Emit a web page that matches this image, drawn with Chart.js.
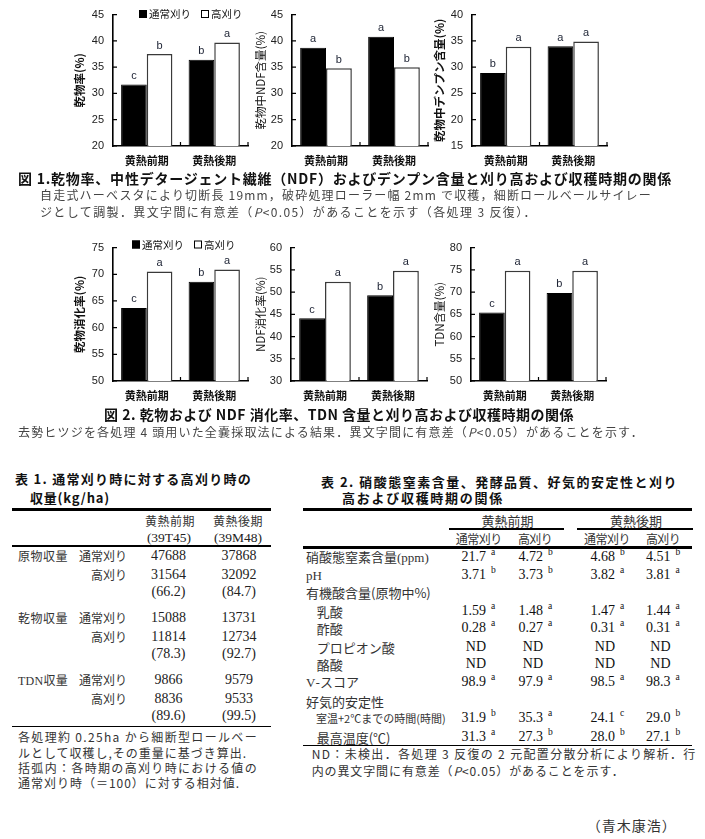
<!DOCTYPE html>
<html lang="ja">
<head>
<meta charset="utf-8">
<script src="https://cdn.jsdelivr.net/npm/chart.js@4.4.1/dist/chart.umd.min.js"></script>
<style>
html, body { margin: 0; padding: 0; background: #fff; }
#page { position: relative; width: 705px; height: 839px; overflow: hidden; font-family: "Noto Sans CJK JP", sans-serif; color: #222; }
canvas { position: absolute; }
.t { position: absolute; white-space: nowrap; line-height: 1; transform: translateY(-50%); }
.c { transform: translate(-50%, -50%); }
.r { transform: translate(-100%, -50%); }
.b { font-weight: bold; color: #111; }
.serif { font-family: "Liberation Serif", serif; }
.rule { position: absolute; background: #000; }
</style>
</head>
<body>
<div id="page"></div>
<script>
// ---- chart data ----
const periods = ['黄熱前期', '黄熱後期'];
const seriesNames = ['通常刈り', '高刈り'];

const dmNormal = [31.7, 36.4];
const dmHigh = [37.5, 39.7];
const dmSigNormal = ['c', 'b'];
const dmSigHigh = ['b', 'a'];

const ndfNormal = [38.7, 40.8];
const ndfHigh = [34.8, 35.0];
const ndfSigNormal = ['a', 'a'];
const ndfSigHigh = ['b', 'b'];

const starchNormal = [28.9, 34.0];
const starchHigh = [33.9, 34.9];
const starchSigNormal = ['b', 'a'];
const starchSigHigh = ['a', 'a'];

const dmdNormal = [63.7, 68.6];
const dmdHigh = [70.5, 70.9];
const dmdSigNormal = ['c', 'b'];
const dmdSigHigh = ['a', 'a'];

const ndfdNormal = [44.1, 49.3];
const ndfdHigh = [52.3, 54.8];
const ndfdSigNormal = ['c', 'b'];
const ndfdSigHigh = ['a', 'a'];

const tdnNormal = [65.4, 69.8];
const tdnHigh = [74.8, 74.8];
const tdnSigNormal = ['c', 'b'];
const tdnSigHigh = ['a', 'a'];

// ---- table 1 ----
const yieldLabels = ['原物収量', '乾物収量', '<span class="serif">TDN</span>収量'];
const yieldNormalEarly = [47688, 15088, 9866];
const yieldHighEarly = [31564, 11814, 8836];
const yieldRelEarly = ['66.2', '78.3', '89.6'];
const yieldNormalLate = [37868, 13731, 9579];
const yieldHighLate = [32092, 12734, 9533];
const yieldRelLate = ['84.7', '92.7', '99.5'];

// ---- table 2 ----
const t2Labels = ['硝酸態窒素含量<span class="serif">(ppm)</span>', '<span class="serif">pH</span>', '有機酸含量(原物中%)', '乳酸', '酢酸', 'プロピオン酸', '酪酸',
  '<span class="serif">V</span>-スコア', '好気的安定性', '室温+2℃までの時間(時間)', '最高温度(℃)'];
const t2EarlyNormal = ['21.7', '3.71', null, '1.59', '0.28', 'ND', 'ND', '98.9', null, '31.9', '31.3'];
const t2EarlyNormalSig = ['a', 'b', null, 'a', 'a', '', '', 'a', null, 'b', 'a'];
const t2EarlyHigh = ['4.72', '3.73', null, '1.48', '0.27', 'ND', 'ND', '97.9', null, '35.3', '27.3'];
const t2EarlyHighSig = ['b', 'b', null, 'a', 'a', '', '', 'a', null, 'a', 'b'];
const t2LateNormal = ['4.68', '3.82', null, '1.47', '0.31', 'ND', 'ND', '98.5', null, '24.1', '28.0'];
const t2LateNormalSig = ['b', 'a', null, 'a', 'a', '', '', 'a', null, 'c', 'b'];
const t2LateHigh = ['4.51', '3.81', null, '1.44', '0.31', 'ND', 'ND', '98.3', null, '29.0', '27.1'];
const t2LateHighSig = ['b', 'a', null, 'a', 'a', '', '', 'a', null, 'b', 'b'];

const page = document.getElementById('page');
const JP = "'Noto Sans CJK JP', sans-serif";
const SANS = "'Liberation Sans', Arial, sans-serif";

// plugins
const innerTicks = {
    id: 'innerTicks',
    afterDraw(chart) {
        const {ctx, chartArea} = chart;
        const xs = chart.scales.x, ys = chart.scales.y;
        ctx.save();
        ctx.strokeStyle = '#000';
        ctx.lineWidth = 1.2;
        ctx.beginPath();
        ys.ticks.forEach(t => {
            const py = ys.getPixelForValue(t.value);
            ctx.moveTo(chartArea.left, py);
            ctx.lineTo(chartArea.left + 4, py);
        });
        for (let i = 1; i <= xs.ticks.length; i++) {
            const px = xs.getPixelForValue(i - 0.5);
            ctx.moveTo(px, chartArea.bottom);
            ctx.lineTo(px, chartArea.bottom - 4);
        }
        ctx.stroke();
        ctx.restore();
    }
};

const letterLabels = {
    id: 'letterLabels',
    afterDatasetsDraw(chart) {
        const ctx = chart.ctx;
        ctx.save();
        ctx.font = '11px ' + SANS;
        ctx.fillStyle = '#1c2233';
        ctx.textAlign = 'center';
        ctx.textBaseline = 'bottom';
        chart.data.datasets.forEach((ds, i) => {
            chart.getDatasetMeta(i).data.forEach((bar, j) => {
                ctx.fillText(ds.letters[j], bar.x, bar.y - 3);
            });
        });
        ctx.restore();
    }
};

const boxLegend = {
    id: 'boxLegend',
    afterDraw(chart, args, opts) {
        if (!opts.show) return;
        const ctx = chart.ctx;
        ctx.save();
        ctx.font = '10.5px ' + JP;
        ctx.textBaseline = 'middle';
        let x = opts.x;
        chart.data.datasets.forEach(ds => {
            ctx.fillStyle = ds.backgroundColor;
            ctx.fillRect(x, opts.y - 4, 8, 8);
            ctx.strokeStyle = '#000';
            ctx.lineWidth = 1;
            ctx.strokeRect(x + 0.5, opts.y - 3.5, 7, 7);
            ctx.fillStyle = '#111';
            ctx.fillText(ds.label, x + 10, opts.y + 0.5);
            x += 10 + ctx.measureText(ds.label).width + 10;
        });
        ctx.restore();
    }
};

const panels = [
    {left: 113, right: 248, top: 9, bottom: 146, titleX: 80, title: '乾物率(%)', bold: true, min: 20, max: 45,
        normal: dmNormal, high: dmHigh, sn: dmSigNormal, sh: dmSigHigh, legend: {x: 139, y: 14}},
    {left: 292, right: 428, top: 9, bottom: 146, titleX: 261, title: '乾物中NDF含量(%)', bold: false, min: 20, max: 45,
        normal: ndfNormal, high: ndfHigh, sn: ndfSigNormal, sh: ndfSigHigh},
    {left: 472, right: 607, top: 9, bottom: 146, titleX: 440, title: '乾物中デンプン含量(%)', bold: true, min: 15, max: 40,
        normal: starchNormal, high: starchHigh, sn: starchSigNormal, sh: starchSigHigh},
    {left: 113, right: 248, top: 241.5, bottom: 380.7, titleX: 80, title: '乾物消化率(%)', bold: true, min: 50, max: 75,
        normal: dmdNormal, high: dmdHigh, sn: dmdSigNormal, sh: dmdSigHigh, legend: {x: 132, y: 244}},
    {left: 291, right: 427, top: 241.5, bottom: 380.7, titleX: 261, title: 'NDF消化率(%)', bold: false, min: 30, max: 60,
        normal: ndfdNormal, high: ndfdHigh, sn: ndfdSigNormal, sh: ndfdSigHigh},
    {left: 471, right: 606, top: 241.5, bottom: 380.7, titleX: 440, title: 'TDN含量(%)', bold: false, min: 50, max: 80,
        normal: tdnNormal, high: tdnHigh, sn: tdnSigNormal, sh: tdnSigHigh}
];

panels.forEach(p => {
    const yW = 62, xH = 32, padT = 10, padR = 12;
    const cl = p.left - yW, ct = p.top - padT;
    const cw = p.right - cl + padR, ch = p.bottom - ct + xH;
    const canvas = document.createElement('canvas');
    canvas.width = cw;
    canvas.height = ch;
    canvas.style.left = cl + 'px';
    canvas.style.top = ct + 'px';
    canvas.style.width = cw + 'px';
    canvas.style.height = ch + 'px';
    page.appendChild(canvas);
    const titleSize = 11.5;
    new Chart(canvas.getContext('2d'), {
        type: 'bar',
        data: {
            labels: periods,
            datasets: [
                {label: seriesNames[0], data: p.normal, letters: p.sn, backgroundColor: '#000', borderColor: '#000', borderWidth: 1},
                {label: seriesNames[1], data: p.high, letters: p.sh, backgroundColor: '#fff', borderColor: '#3a3a3a', borderWidth: 1.5}
            ]
        },
        options: {
            responsive: false,
            animation: false,
            layout: {padding: {left: 0, top: padT, right: padR, bottom: 0}},
            datasets: {bar: {categoryPercentage: 0.76, barPercentage: 1}},
            plugins: {
                legend: {display: false},
                tooltip: {enabled: false},
                boxLegend: p.legend ? {show: true, x: p.legend.x - cl, y: p.legend.y - ct} : {show: false}
            },
            scales: {
                x: {
                    grid: {display: false, drawTicks: false},
                    border: {display: true, color: '#000', width: 1.6},
                    ticks: {font: {family: JP, size: 11, weight: 'bold'}, color: '#111', padding: 8, maxRotation: 0},
                    afterFit: s => { s.height = xH; }
                },
                y: {
                    min: p.min, max: p.max,
                    grid: {display: false, drawTicks: false},
                    border: {display: true, color: '#000', width: 1.6},
                    ticks: {stepSize: 5, font: {family: SANS, size: 11}, color: '#222', padding: 9},
                    title: {
                        display: true, text: p.title, color: '#111',
                        font: {family: JP, size: titleSize, weight: p.bold ? 'bold' : 'normal'},
                        padding: {top: p.titleX - cl - titleSize * 0.6, bottom: 0}
                    },
                    afterFit: s => { s.width = yW; }
                }
            }
        },
        plugins: [innerTicks, letterLabels, boxLegend]
    });
});

// ---- text helpers ----
function put(x, y, html, cls, css, fitW) {
    const d = document.createElement('div');
    d.className = 't ' + (cls || '');
    d.style.cssText = 'left:' + x + 'px;top:' + y + 'px;' + (css || '');
    d.innerHTML = html;
    if (fitW) d.dataset.w = fitW;
    page.appendChild(d);
    return d;
}
function rule(x1, x2, y, h) {
    const d = document.createElement('div');
    d.className = 'rule';
    d.style.cssText = 'left:' + x1 + 'px;width:' + (x2 - x1) + 'px;top:' + (y - h / 2) + 'px;height:' + h + 'px;';
    page.appendChild(d);
}

// figure captions
put(18, 178, '図 1.乾物率、中性デタージェント繊維（NDF）およびデンプン含量と刈り高および収穫時期の関係', 'b', 'font-size:14px', 654);
put(40, 195, '自走式ハーベスタにより切断長 19mm，破砕処理ローラー幅 2mm で収穫，細断ロールベールサイレー', '', 'font-size:12px;color:#444', 612);
put(40, 212, 'ジとして調製．異文字間に有意差（<i>P</i>&lt;0.05）があることを示す（各処理 3 反復）．', '', 'font-size:12px;color:#444', 497);
put(104, 414, '図 2. 乾物および NDF 消化率、TDN 含量と刈り高および収穫時期の関係', 'b', 'font-size:14px', 470);
put(18, 432, '去勢ヒツジを各処理 4 頭用いた全嚢採取法による結果．異文字間に有意差（<i>P</i>&lt;0.05）があることを示す．', '', 'font-size:12px;color:#444', 626);

// table 1
put(15, 478, '表 1. 通常刈り時に対する高刈り時の', 'b', 'font-size:13px', 237);
put(30, 497, '収量(kg/ha)', 'b', 'font-size:13px', 80);
rule(12, 271, 509, 3);
put(170, 520.5, periods[0], 'c', 'font-size:12px;color:#333', 50);
put(238, 520.5, periods[1], 'c', 'font-size:12px;color:#333', 50);
put(169, 538, '(39T45)', 'c serif', 'font-size:13.5px');
put(238, 538, '(39M48)', 'c serif', 'font-size:13.5px');
rule(12, 271, 546, 2);
yieldLabels.forEach((lab, g) => {
    const y0 = 556 + g * 62;
    put(18, y0, lab, '', 'font-size:12px;color:#333', 50);
    put(127, y0, seriesNames[0], 'r', 'font-size:12px;color:#333');
    put(127, y0 + 18.5, seriesNames[1], 'r', 'font-size:12px;color:#333');
    put(168.5, y0, yieldNormalEarly[g], 'c serif', 'font-size:14px');
    put(239, y0, yieldNormalLate[g], 'c serif', 'font-size:14px');
    put(168.5, y0 + 18.5, yieldHighEarly[g], 'c serif', 'font-size:14px');
    put(239, y0 + 18.5, yieldHighLate[g], 'c serif', 'font-size:14px');
    put(168.5, y0 + 36, '(' + yieldRelEarly[g] + ')', 'c serif', 'font-size:14px');
    put(239, y0 + 36, '(' + yieldRelLate[g] + ')', 'c serif', 'font-size:14px');
});
rule(12, 271, 726, 1);
put(18, 737, '各処理約 0.25ha から細断型ロールベー', '', 'font-size:12px;color:#333', 240);
put(18, 753, 'ルとして収穫し,その重量に基づき算出.', '', 'font-size:12px;color:#333', 229);
put(18, 768, '括弧内：各時期の高刈り時における値の', '', 'font-size:12px;color:#333', 240);
put(18, 783, '通常刈り時（＝100）に対する相対値.', '', 'font-size:12px;color:#333', 222);

// table 2
put(321, 480.5, '表 2. 硝酸態窒素含量、発酵品質、好気的安定性と刈り', 'b', 'font-size:13px', 357);
put(342, 497, '高および収穫時期の関係', 'b', 'font-size:13px', 162);
rule(303, 692, 509.3, 3);
put(507.5, 520, periods[0], 'c', 'font-size:13px;color:#333', 52);
put(636, 520, periods[1], 'c', 'font-size:13px;color:#333', 52);
rule(449, 564, 529.3, 2);
rule(577, 692.7, 529.3, 2);
put(478.7, 539.3, seriesNames[0], 'c', 'font-size:12px;color:#333', 46);
put(535, 539.3, seriesNames[1], 'c', 'font-size:12px;color:#333', 34);
put(607, 539.3, seriesNames[0], 'c', 'font-size:12px;color:#333', 46);
put(663, 539.3, seriesNames[1], 'c', 'font-size:12px;color:#333', 34);
rule(303, 692, 547.3, 2.5);
const t2Y = [556.7, 575, 592.3, 610.7, 628.3, 646.7, 664, 681.7, 701, 718.3, 736.7];
const t2X = [306, 306, 306, 316.7, 316.7, 316.7, 316.7, 306, 306, 316, 316.7];
const t2Cols = [[t2EarlyNormal, t2EarlyNormalSig, 486], [t2EarlyHigh, t2EarlyHighSig, 543],
    [t2LateNormal, t2LateNormalSig, 615], [t2LateHigh, t2LateHighSig, 670.5]];
t2Labels.forEach((lab, i) => {
    const small = i === 9;
    put(t2X[i], t2Y[i], lab, '', 'color:#333;font-size:' + (small ? '11px' : '13px'));
    t2Cols.forEach(([vals, sigs, rx]) => {
        if (vals[i] === null) return;
        put(rx, t2Y[i], vals[i], 'r serif', 'font-size:14px;color:#111');
        if (sigs[i]) put(rx + 5, t2Y[i] - 4, sigs[i], 'serif', 'font-size:9.5px;color:#111');
    });
});
rule(303, 692, 745, 1);
put(311.7, 754.3, 'ND：未検出．各処理 3 反復の 2 元配置分散分析により解析．行', '', 'font-size:12px;color:#333', 385);
put(311.7, 771, '内の異文字間に有意差（<i>P</i>&lt;0.05）があることを示す．', '', 'font-size:12px;color:#333', 313);
put(586.7, 825, '（青木康浩）', '', 'font-size:14px;color:#333', 90);

function fitAll() {
    document.querySelectorAll('[data-w]').forEach(el => {
        el.style.letterSpacing = '0px';
        const n = el.textContent.length;
        const w = el.getBoundingClientRect().width;
        el.style.letterSpacing = ((+el.dataset.w - w) / n) + 'px';
    });
}
fitAll();
document.fonts.ready.then(fitAll);
</script>
</body>
</html>
